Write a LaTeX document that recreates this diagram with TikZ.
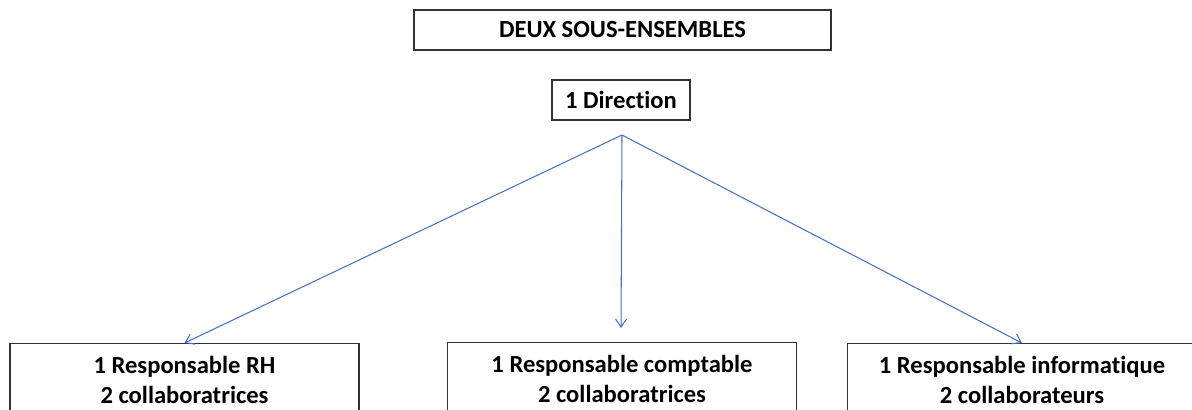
\documentclass[tikz,border=0pt]{standalone}
\usepackage{fontspec}
\setmainfont{Carlito}[Ligatures=NoCommon]
\usetikzlibrary{arrows.meta, positioning, calc}

\begin{document}
\begin{tikzpicture}[x=0.02cm, y=-0.02cm,
    box/.style={draw=black!80, line width=0.8pt, align=center,
        font=\bfseries\fontsize{14}{17.2}\selectfont},
    unitbox/.style={box, anchor=north, minimum width=6.98cm, inner ysep=0.25cm},
    link/.style={draw={rgb,255:red,68;green,114;blue,196}, line width=0.6pt,
        -{Straight Barb[length=1.6mm, width=2.2mm]}}]
    % Frame of the page
    \clip (0,0) rectangle (1192,409);

    % Title and top box
    \node[box, minimum width=8.34cm, minimum height=0.8cm] (title) at (622.5,30) {DEUX SOUS-ENSEMBLES};
    \node[box, minimum width=2.76cm, minimum height=0.8cm] (direction) at (621,100) {1 Direction};
    \coordinate (split) at (622,135);

    % Three units
    \node[unitbox] (rh) at (184.5,343) {1 Responsable RH\\2 collaboratrices};
    \node[unitbox] (compta) at (622,342) {1 Responsable comptable\\2 collaboratrices};
    \node[unitbox] (info) at (1022,343) {1 Responsable informatique\\2 collaborateurs};
    \coordinate (comptaend) at (621,328);

    % Links
    \draw[link] (split) -- (rh.north);
    \draw[link] (split) -- (comptaend);
    \draw[link] (split) -- (info.north);
\end{tikzpicture}
\end{document}
